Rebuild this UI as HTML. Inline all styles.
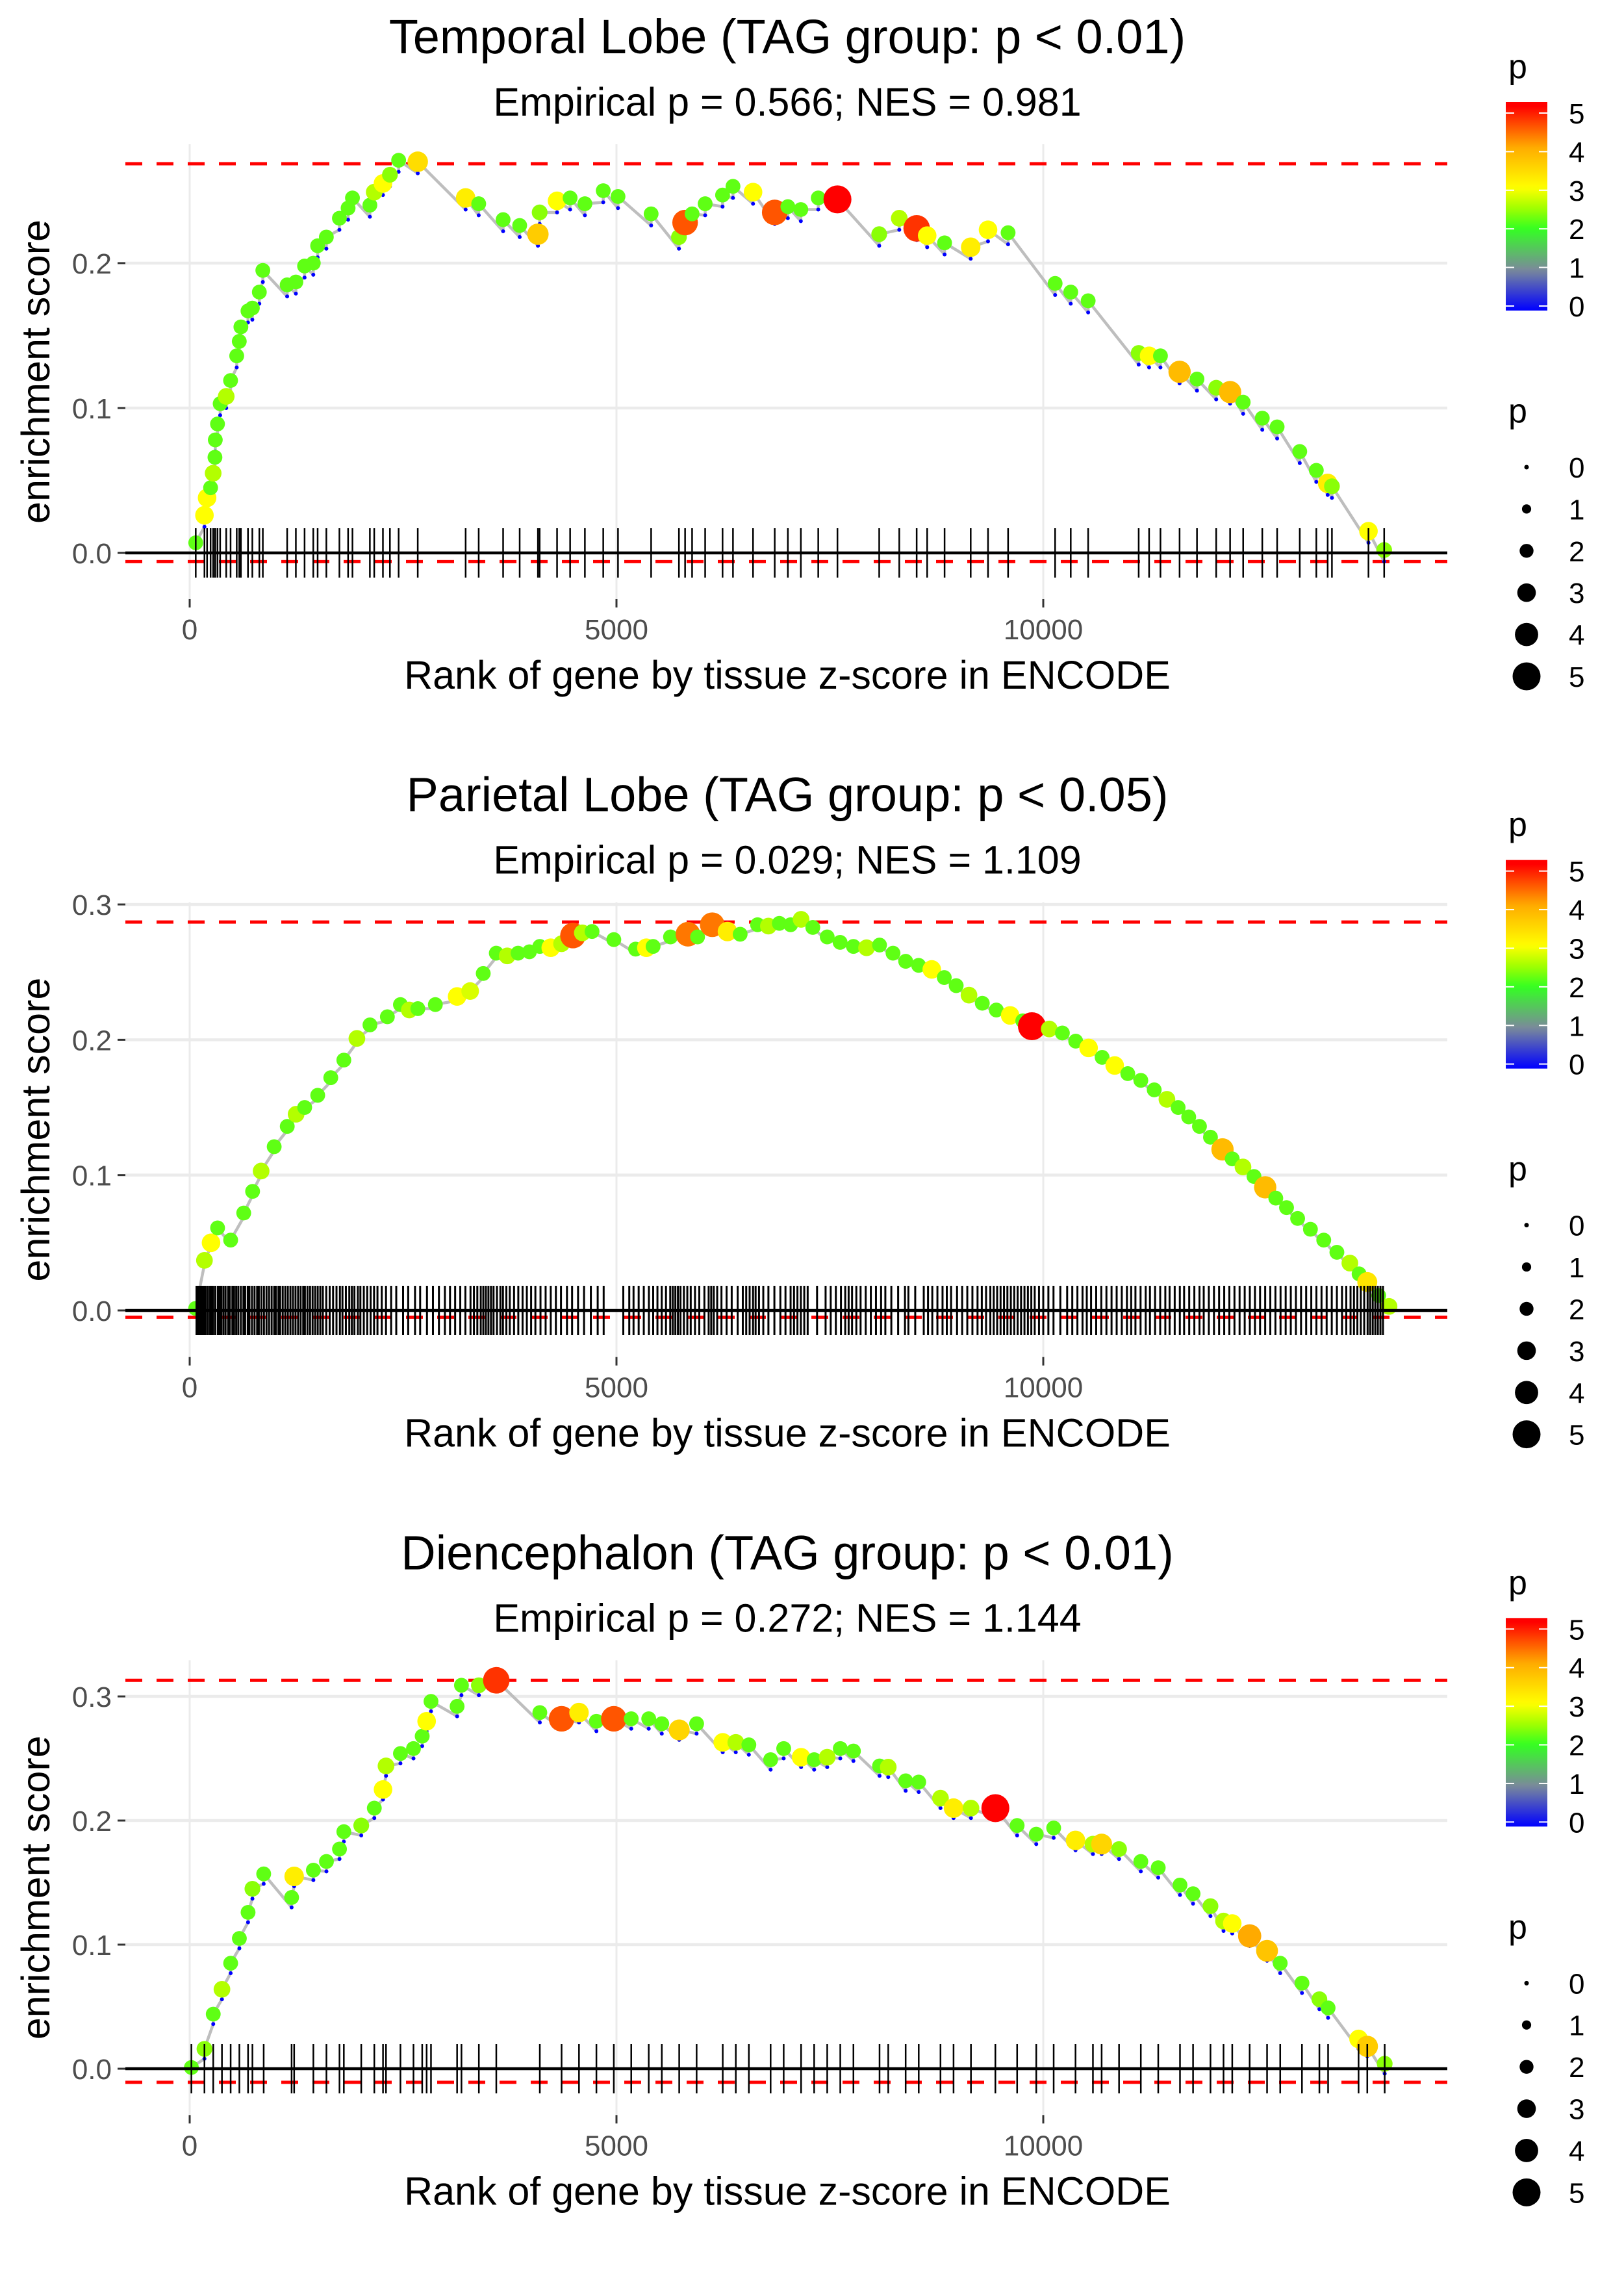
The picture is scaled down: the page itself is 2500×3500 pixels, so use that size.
<!DOCTYPE html>
<html><head><meta charset="utf-8"><title>GSEA enrichment plots</title>
<style>
html,body{margin:0;padding:0;background:#fff;}
svg{display:block;font-family:"Liberation Sans",sans-serif;}
</style></head>
<body>
<svg id="fig" width="2500" height="3500" viewBox="0 0 2500 3500" xmlns="http://www.w3.org/2000/svg"></svg>
<script>
// ---------- Panel data ----------
const panelTitles = ["Temporal Lobe (TAG group: p < 0.01)", "Parietal Lobe (TAG group: p < 0.05)", "Diencephalon (TAG group: p < 0.01)"];
const panelSubtitles = ["Empirical p = 0.566; NES = 0.981", "Empirical p = 0.029; NES = 1.109", "Empirical p = 0.272; NES = 1.144"];
const xTicks = [0, 5000, 10000];
const yTicks1 = [0.0, 0.1, 0.2];
const yTicks2 = [0.0, 0.1, 0.2, 0.3];
const yTicks3 = [0.0, 0.1, 0.2, 0.3];
const thresh1 = [0.2686, -0.006];
const thresh2 = [0.287, -0.005];
const thresh3 = [0.313, -0.011];

const rank1 = [71,173,204,245,275,296,300,326,357,428,479,551,581,600,683,734,816,857,1142,1244,1346,1448,1499,1601,1754,1856,1907,2111,2162,2264,2346,2448,2672,3233,3386,3672,3866,4080,4100,4304,4457,4630,4845,5018,5406,5732,5804,5886,6039,6243,6365,6600,6854,7008,7160,7364,7589,8078,8313,8517,8640,8844,9150,9353,9588,10139,10322,10526,11118,11240,11373,11597,11801,12026,12189,12342,12566,12740,13005,13199,13332,13382,13810,13994];
const es1 = [.007,.026,.038,.045,.055,.066,.078,.089,.103,.108,.119,.136,.146,.156,.167,.169,.18,.195,.185,.187,.198,.2,.212,.218,.231,.238,.245,.240,.249,.255,.261,.271,.270,.245,.241,.230,.226,.220,.235,.243,.245,.241,.250,.246,.234,.218,.228,.234,.241,.247,.253,.249,.235,.239,.237,.245,.244,.220,.231,.224,.219,.214,.211,.223,.221,.186,.180,.174,.138,.136,.136,.125,.120,.114,.111,.104,.093,.087,.070,.057,.048,.046,.015,.002];
const pv1 = [2.2,3,3,2.2,2.6,2.2,2.2,2.2,2.2,2.6,2.2,2.2,2.2,2.2,2.2,2.2,2.2,2.2,2.2,2.2,2.2,2.2,2.2,2.2,2.2,2.2,2.2,2.2,2.6,3,2.4,2.2,3.4,3.2,2.2,2.2,2.2,3.6,2.4,3,2.2,2.2,2.2,2.2,2.2,2.4,4.5,2.2,2.2,2.2,2.2,3,4.5,2.2,2.2,2.2,5,2.4,2.6,4.7,3,2.2,3.2,3,2.2,2.2,2.2,2.2,2.4,3,2.2,3.8,2.2,2.4,3.8,2.2,2.2,2.2,2.2,2.2,3.2,2.4,3,2.4];

const rank2 = [70,173,250,327,480,633,737,837,990,1143,1247,1347,1500,1653,1806,1959,2112,2316,2469,2573,2673,2878,3133,3286,3439,3592,3720,3847,3980,4102,4230,4357,4490,4600,4714,4969,5224,5350,5429,5633,5837,5950,6122,6300,6449,6653,6780,6908,7040,7163,7300,7469,7620,7776,7930,8082,8240,8388,8540,8694,8840,8980,9130,9286,9450,9612,9760,9867,10070,10224,10380,10531,10690,10837,10990,11143,11300,11449,11580,11704,11830,11959,12100,12214,12340,12469,12600,12724,12850,12980,13130,13286,13440,13592,13700,13796,13930,14051];
const es2 = [.0015,.037,.05,.061,.052,.072,.088,.103,.121,.136,.145,.150,.159,.172,.185,.201,.211,.217,.226,.222,.223,.226,.232,.236,.249,.264,.262,.264,.265,.269,.268,.271,.277,.279,.280,.274,.267,.268,.269,.276,.278,.276,.285,.280,.278,.285,.284,.286,.285,.289,.283,.276,.272,.269,.268,.270,.264,.258,.255,.252,.246,.240,.233,.227,.222,.218,.214,.210,.208,.205,.199,.194,.187,.181,.175,.170,.163,.156,.150,.143,.136,.128,.119,.112,.106,.099,.091,.083,.076,.068,.060,.052,.043,.035,.027,.021,.011,.003];
const pv2 = [2.2,2.6,3,2.2,2.2,2.2,2.2,2.6,2.2,2.2,2.6,2.2,2.2,2.2,2.2,2.6,2.2,2.2,2.2,2.6,2.2,2.2,3,2.8,2.2,2.2,2.6,2.2,2.2,2.2,3,2.6,4.5,2.6,2.2,2.2,2.2,3,2.2,2.2,4.3,2.2,4.3,3.2,2.2,2.2,2.6,2.2,2.2,2.6,2.2,2.2,2.2,2.2,2.6,2.2,2.2,2.2,2.2,3,2.2,2.2,2.6,2.2,2.2,3,2.2,5,2.6,2.2,2.2,3,2.2,3,2.2,2.2,2.2,2.6,2.2,2.2,2.2,2.2,3.8,2.2,2.6,2.2,3.8,2.2,2.2,2.2,2.2,2.2,2.2,2.6,2.2,3.3,2.2,2.6];
const rug2 = [80,95,110,130,150,170,190,215,240,260,275,300,330,350,370,395,420,450,470,500,520,545,570,600,630,650,680,700,730,760,790,810,840,870,900,930,960,990,1010,1040,1060,1090,1120,1150,1180,1210,1240,1270,1300,1330,1350,1380,1410,1440,1470,1500,1530,1560,1600,1640,1680,1720,1760,1790,1830,1870,1900,1930,1970,2000,2040,2080,2120,2160,2200,2250,2300,2360,2420,2500,2560,2640,2700,2780,2850,2920,2990,3050,3110,3170,3230,3290,3330,3370,3410,3440,3470,3500,3530,3560,3600,3640,3670,3710,3750,3800,3850,3900,3950,4000,4050,4110,4170,4230,4290,4350,4420,4480,4550,4620,4700,4780,4850,5080,5150,5200,5260,5320,5380,5430,5480,5530,5580,5630,5660,5690,5720,5750,5790,5830,5870,5920,5970,6030,6080,6110,6140,6180,6230,6290,6350,6420,6480,6520,6560,6600,6630,6670,6720,6780,6850,6920,6980,7040,7080,7120,7160,7200,7240,7350,7450,7510,7570,7630,7680,7720,7760,7810,7860,7920,7980,8040,8100,8150,8220,8300,8380,8420,8500,8600,8650,8700,8760,8820,8870,8920,8990,9050,9110,9170,9230,9280,9330,9380,9420,9460,9500,9540,9580,9620,9660,9700,9740,9780,9820,9860,9900,9950,10000,10060,10120,10200,10280,10340,10400,10460,10510,10560,10620,10680,10740,10800,10860,10920,10980,11030,11080,11140,11200,11250,11310,11370,11430,11480,11540,11600,11650,11710,11770,11830,11880,11940,12000,12060,12120,12180,12240,12300,12360,12420,12480,12540,12600,12660,12720,12780,12840,12900,12960,13020,13080,13140,13200,13260,13320,13380,13440,13500,13550,13600,13640,13680,13720,13760,13800,13830,13860,13890,13920,13950,13980];

const rank3 = [20,173,276,378,480,582,684,735,867,1194,1224,1449,1602,1755,1806,2010,2163,2265,2300,2469,2622,2724,2776,2827,3133,3184,3388,3592,4102,4357,4561,4765,4969,5173,5378,5531,5735,5939,6245,6398,6551,6806,6959,7163,7316,7469,7622,7776,8082,8184,8388,8541,8796,8949,9153,9439,9694,9918,10122,10378,10582,10684,10888,11143,11347,11602,11755,11959,12112,12214,12418,12622,12776,13031,13235,13337,13694,13796,14000];
const es3 = [.001,.016,.044,.064,.085,.105,.126,.145,.157,.138,.155,.160,.167,.177,.191,.196,.210,.225,.244,.254,.258,.268,.280,.296,.292,.309,.309,.313,.287,.282,.287,.280,.282,.282,.282,.278,.273,.278,.263,.263,.261,.249,.258,.251,.249,.251,.258,.256,.244,.243,.232,.231,.218,.210,.210,.210,.196,.189,.194,.184,.181,.181,.177,.167,.162,.148,.141,.131,.119,.117,.107,.095,.085,.069,.056,.049,.024,.018,.004];
const pv3 = [2.2,2.4,2.2,2.6,2.2,2.2,2.2,2.4,2.2,2.2,3.2,2.2,2.2,2.2,2.2,2.4,2.2,3,2.6,2.2,2.2,2.2,3,2.2,2.2,2.2,2.4,4.7,2.2,4.5,3.2,2.2,4.5,2.2,2.2,2.2,3.5,2.2,3,2.6,2.2,2.2,2.2,3,2.2,2.6,2.2,2.2,2.2,2.6,2.2,2.2,2.6,3.2,2.6,5,2.2,2.2,2.2,3.2,2.6,3.5,2.4,2.2,2.2,2.2,2.2,2.4,2.6,3,4,3.7,2.2,2.2,2.4,2.2,3,3.6,2.4];

const legendValues = [0,1,2,3,4,5];

// ---------- layout (styling, not data) ----------
const NS = "http://www.w3.org/2000/svg";
const svg = document.getElementById("fig");
const PANEL_H = 1166.67;
const X_LEFT = 193, X_RIGHT = 2228, X0 = 292, X_PER = 0.1314;
const LX = 2318;
const TX = 1212;
const panelCfg = [
  {rank: rank1, es: es1, pv: pv1, rug: rank1, yTicks: yTicks1, thr: thresh1, y0: 851, ppu: 2230, jump: 0.008},
  {rank: rank2, es: es2, pv: pv2, rug: rug2, yTicks: yTicks2, thr: thresh2, y0: 850.3, ppu: 2083, jump: 0.003},
  {rank: rank3, es: es3, pv: pv3, rug: rank3, yTicks: yTicks3, thr: thresh3, y0: 850.7, ppu: 1910, jump: 0.008}
];

function mk(tag, attrs, parent) {
  const el = document.createElementNS(NS, tag);
  for (const k in attrs) el.setAttribute(k, attrs[k]);
  (parent || svg).appendChild(el);
  return el;
}
function colorFor(p) {
  const stops = [[0,[0,0,255]],[1,[122,138,154]],[2,[51,255,34]],[2.5,[160,255,0]],[3,[255,255,0]],[4,[255,170,0]],[5,[255,0,0]]];
  p = Math.max(0, Math.min(5, p));
  for (let i = 1; i < stops.length; i++) {
    if (p <= stops[i][0]) {
      const a = stops[i-1], b = stops[i], t = (p - a[0]) / (b[0] - a[0]);
      const c = a[1].map((v, j) => Math.round(v + (b[1][j] - v) * t));
      return "rgb(" + c.join(",") + ")";
    }
  }
  return "rgb(255,0,0)";
}
function sizeFor(p) { return 3.5 + 3.6 * p; }

panelCfg.forEach((cfg, k) => {
  const off = k * PANEL_H;
  const top = 222 + off, bottom = 922 + off;
  const y0 = cfg.y0 + off;
  const xs = r => X0 + r * X_PER;
  const ys = v => y0 - v * cfg.ppu;
  const g = mk("g", {});
  
  

  const title = mk("text", {x: TX, y: 82 + off, "font-size": 74, "text-anchor": "middle", fill: "#000"}, g);
  title.textContent = panelTitles[k];
  
  
  const sub = mk("text", {x: TX, y: 178 + off, "font-size": 61, "text-anchor": "middle", fill: "#000"}, g);
  sub.textContent = panelSubtitles[k];
  
  

  // grid
  cfg.yTicks.forEach(t => {
    const l = mk("line", {x1: X_LEFT, x2: X_RIGHT, y1: ys(t), y2: ys(t), stroke: "#ebebeb", "stroke-width": 4.5}, g);
    
    
  });
  xTicks.forEach(t => {
    const l = mk("line", {x1: xs(t), x2: xs(t), y1: top, y2: bottom, stroke: "#ebebeb", "stroke-width": 3}, g);
    
    
  });
  // y axis ticks/labels
  cfg.yTicks.forEach(t => {
    const tk = mk("line", {x1: 181, x2: 193, y1: ys(t), y2: ys(t), stroke: "#333", "stroke-width": 3}, g);
    
    
    const tl = mk("text", {x: 172, y: ys(t) + 16, "font-size": 44, "text-anchor": "end", fill: "#4d4d4d"}, g);
    tl.textContent = t.toFixed(1);
    
    
  });
  xTicks.forEach(t => {
    const tk = mk("line", {x1: xs(t), x2: xs(t), y1: 922 + off, y2: 935 + off, stroke: "#333", "stroke-width": 3}, g);
    
    
    const tl = mk("text", {x: xs(t), y: 984 + off, "font-size": 44, "text-anchor": "middle", fill: "#4d4d4d"}, g);
    tl.textContent = String(t);
    
    
  });
  const xt = mk("text", {x: TX, y: 1060 + off, "font-size": 61, "text-anchor": "middle", fill: "#000"}, g);
  xt.textContent = "Rank of gene by tissue z-score in ENCODE";
  
  
  const cy = (top + bottom) / 2;
  const yt = mk("text", {x: 0, y: 0, "font-size": 61, "text-anchor": "middle", fill: "#000", transform: "translate(76," + cy + ") rotate(-90)"}, g);
  yt.textContent = "enrichment score";
  
  

  // threshold dashed lines
  cfg.thr.forEach(v => {
    const l = mk("line", {x1: X_LEFT, x2: X_RIGHT, y1: ys(v), y2: ys(v), stroke: "#ff0000", "stroke-width": 5, "stroke-dasharray": "26 22"}, g);
    
    
  });

  // running ES curve (zigzag)
  let d = "M" + xs(cfg.rank[0]) + "," + ys(cfg.es[0]);
  const troughs = [];
  for (let i = 1; i < cfg.rank.length; i++) {
    const tx = xs(cfg.rank[i]), ty = ys(cfg.es[i] - cfg.jump);
    d += " L" + tx + "," + ty + " L" + tx + "," + ys(cfg.es[i]);
    troughs.push([tx, ty]);
  }
  const path = mk("path", {d: d, fill: "none", stroke: "#bebebe", "stroke-width": 4.5, "stroke-linejoin": "round"}, g);
  
  
  troughs.forEach(t => {
    const c = mk("circle", {cx: t[0], cy: t[1], r: 3, fill: "#0000ff"}, g);
    
    
  });
  for (let i = 0; i < cfg.rank.length; i++) {
    const c = mk("circle", {cx: xs(cfg.rank[i]), cy: ys(cfg.es[i]), r: sizeFor(cfg.pv[i]), fill: colorFor(cfg.pv[i])}, g);
    
    
  }
  // rug
  cfg.rug.forEach(r => {
    const l = mk("line", {x1: xs(r), x2: xs(r), y1: y0 - 38, y2: y0 + 38, stroke: "#000", "stroke-width": cfg.rug === rug2 ? 3 : 2.5}, g);
    
    
  });
  const zl = mk("line", {x1: X_LEFT, x2: X_RIGHT, y1: y0, y2: y0, stroke: "#000", "stroke-width": 4.5}, g);
  
  

  // colour legend
  const lg = mk("g", {}, g);
  
  
  const lt = mk("text", {x: LX + 4, y: 120 + off, "font-size": 52, fill: "#000"}, lg);
  lt.textContent = "p";
  
  
  const gradId = "grad" + k;
  const defs = mk("defs", {}, lg);
  const grad = mk("linearGradient", {id: gradId, x1: 0, y1: 1, x2: 0, y2: 0}, defs);
  for (let s = 0; s <= 50; s++) {
    mk("stop", {offset: (s / 50), "stop-color": colorFor(s / 50 * 5.1)}, grad);
  }
  const bar = mk("rect", {x: LX, y: 157 + off, width: 64, height: 321, fill: "url(#" + gradId + ")"}, lg);
  
  
  legendValues.forEach(v => {
    const yy = 471 - v * 59.4 + off;
    mk("line", {x1: LX, x2: LX + 13, y1: yy, y2: yy, stroke: "#fff", "stroke-width": 2}, lg);
    mk("line", {x1: LX + 51, x2: LX + 64, y1: yy, y2: yy, stroke: "#fff", "stroke-width": 2}, lg);
    const t = mk("text", {x: LX + 97, y: yy + 16, "font-size": 44, fill: "#000"}, lg);
    t.textContent = String(v);
    
    
  });
  // size legend
  const sg = mk("g", {}, g);
  
  
  const st = mk("text", {x: LX + 4, y: 650 + off, "font-size": 52, fill: "#000"}, sg);
  st.textContent = "p";
  
  
  legendValues.forEach((v, i) => {
    const yy = 719 + i * 64.4 + off;
    const c = mk("circle", {cx: LX + 32, cy: yy, r: sizeFor(v), fill: "#000"}, sg);
    
    
    const t = mk("text", {x: LX + 97, y: yy + 16, "font-size": 44, fill: "#000"}, sg);
    t.textContent = String(v);
    
    
  });
});
</script>
</body></html>
